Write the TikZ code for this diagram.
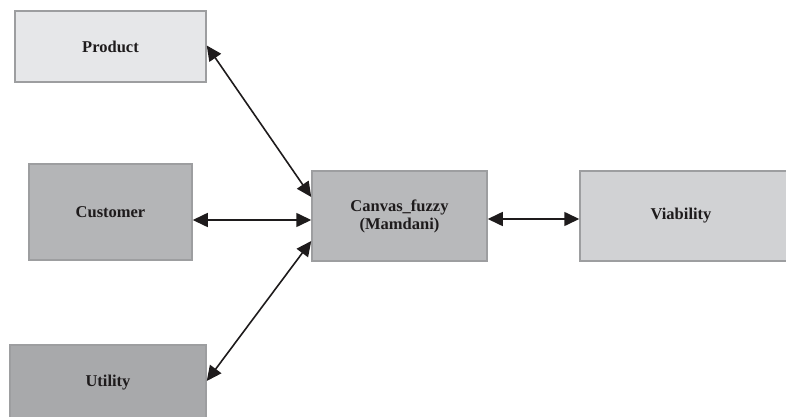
\documentclass[tikz,border=0pt]{standalone}
\usepackage{fontspec}
\setmainfont{Liberation Serif}
\usetikzlibrary{arrows.meta}
\definecolor{bordergray}{HTML}{9D9EA0}
\definecolor{fillA}{HTML}{E6E7E9}
\definecolor{fillB}{HTML}{B4B5B7}
\definecolor{fillC}{HTML}{A8A9AB}
\definecolor{fillD}{HTML}{B8B9BB}
\definecolor{fillE}{HTML}{D1D2D4}
\definecolor{linecol}{HTML}{1E1B1C}
\tikzset{
  box/.style={draw=bordergray, line width=1.5pt, rectangle, inner sep=0pt,
    font=\fontsize{16.5}{20}\selectfont\bfseries, text=linecol, align=center},
  link/.style={line width=1.6pt, draw=linecol,
    {Triangle[length=15pt,width=14pt]}-{Triangle[length=15pt,width=14pt]}}
}
\begin{document}
\begin{tikzpicture}[x=1pt,y=-1pt]
\useasboundingbox (0,0) rectangle (786,417);
\node[box, fill=fillA, minimum width=191pt, minimum height=71pt] (prod) at (110.5,46.5) {Product};
\node[box, fill=fillB, minimum width=163pt, minimum height=96pt] (cust) at (110.5,212) {Customer};
\node[box, fill=fillC, minimum width=196pt, minimum height=76pt] (util) at (108,383) {Utility};
\node[box, fill=fillD, minimum width=175pt, minimum height=90pt] (canv) at (399.5,216) {\raisebox{-5pt}{\shortstack{Canvas\_fuzzy\\(Mamdani)}}};
\node[box, fill=fillE, minimum width=215pt, minimum height=90pt] (viab) at (687.5,216) {\hspace*{-13pt}Viability};
\draw[link] ([yshift=1pt]prod.east) -- ([yshift=19pt]canv.west);
\draw[link] ([yshift=-8pt]cust.east) -- ([yshift=-4pt]canv.west);
\draw[link] ([yshift=2pt]util.east) -- ([yshift=-25pt]canv.west);
\draw[link] ([yshift=-3pt]canv.east) -- ([yshift=-3pt]viab.west);
\end{tikzpicture}
\end{document}
